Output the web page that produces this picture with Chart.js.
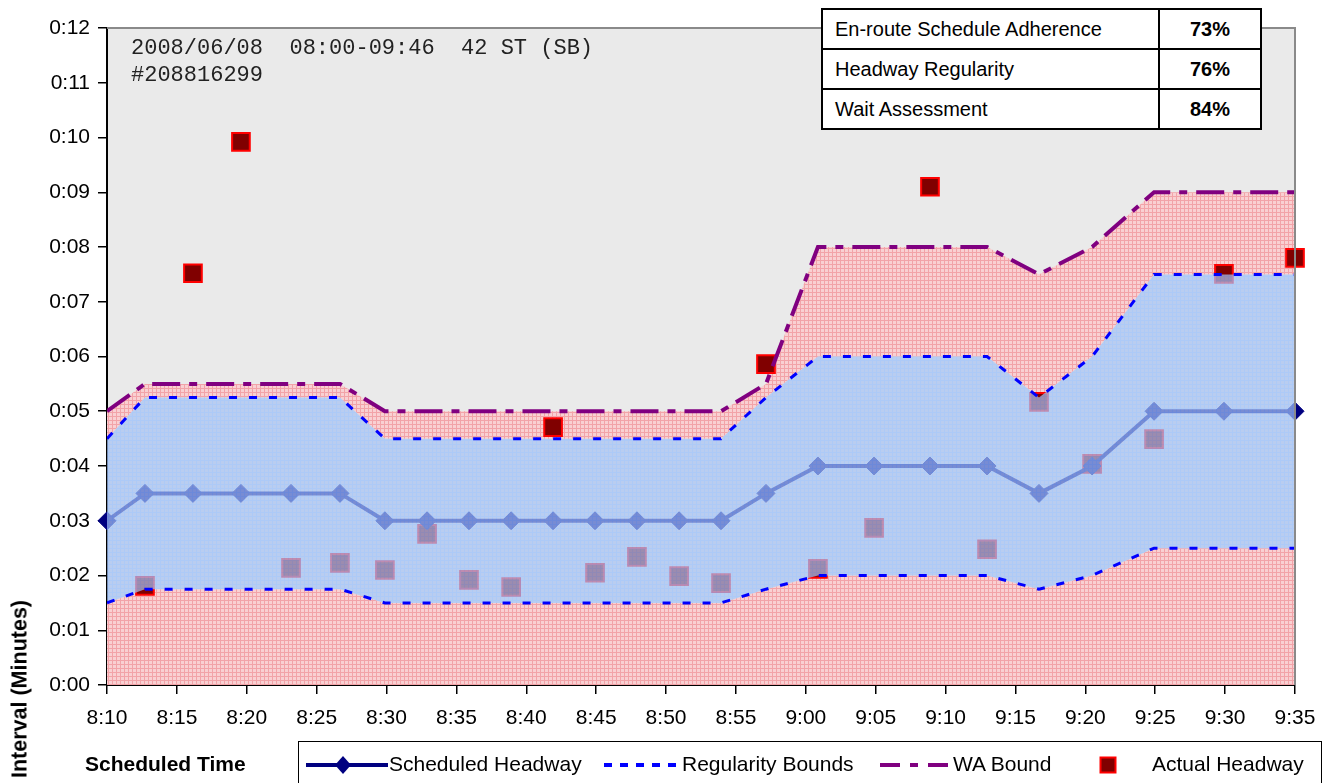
<!DOCTYPE html>
<html lang="en">
<head>
  <meta charset="UTF-8" />
  <title>Headway chart - 42 ST (SB)</title>
  <script src="https://cdn.jsdelivr.net/npm/chart.js"></script>
  <style>
    body { margin: 0; background: #fff; overflow: hidden; font-family: Arial, "Liberation Sans", sans-serif; }
    #wrap { position: relative; width: 1329px; height: 783px; }
    .abs { position: absolute; white-space: nowrap; }
    #note { left: 131px; top: 35px; font: 22px "Liberation Mono", "DejaVu Sans Mono", monospace; line-height: 27px; color: #222; }
    #stats { left: 821px; top: 8px; border-collapse: collapse; background: #fff; font-size: 20px; }
    #stats td { border: 2px solid #000; height: 38px; padding: 0 12px; }
    #stats td.v { width: 76px; text-align: center; font-weight: bold; }
    #stats td.k { width: 311px; }
    #ytitle { left: 20px; top: 689px; font-weight: bold; font-size: 21.5px; transform: translate(-50%, -50%) rotate(-90deg); }
    #xtitle { left: 85px; top: 752px; font-weight: bold; font-size: 21px; }
    #legend { left: 298px; top: 741px; width: 1022px; height: 60px; border: 1.5px solid #000; }
    .lt { font-size: 21px; top: 752px; }
  </style>
</head>
<body>
<div id="wrap">
  <canvas id="chart" width="1329" height="783"></canvas>

  <div class="abs" id="note">2008/06/08&nbsp;&nbsp;08:00-09:46&nbsp;&nbsp;42 ST (SB)<br>#208816299</div>

  <table class="abs" id="stats">
    <tr><td class="k">En-route Schedule Adherence</td><td class="v">73%</td></tr>
    <tr><td class="k">Headway Regularity</td><td class="v">76%</td></tr>
    <tr><td class="k">Wait Assessment</td><td class="v">84%</td></tr>
  </table>

  <div class="abs" id="ytitle">Interval (Minutes)</div>
  <div class="abs" id="xtitle">Scheduled Time</div>

  <div class="abs" id="legend"></div>
  <svg class="abs" style="left:306px;top:754px" width="82" height="22">
    <line x1="0" y1="11" x2="82" y2="11" stroke="#000080" stroke-width="4"/>
    <polygon points="37,2 45,11 37,20 29,11" fill="#000080"/>
  </svg>
  <div class="abs lt" style="left:389px">Scheduled Headway</div>
  <svg class="abs" style="left:604px;top:754px" width="74" height="22">
    <line x1="0" y1="11" x2="74" y2="11" stroke="#0000ff" stroke-width="4" stroke-dasharray="8 8"/>
  </svg>
  <div class="abs lt" style="left:682px">Regularity Bounds</div>
  <svg class="abs" style="left:880px;top:754px" width="70" height="22">
    <line x1="0" y1="11" x2="70" y2="11" stroke="#800080" stroke-width="4" stroke-dasharray="20 10 8 10"/>
  </svg>
  <div class="abs lt" style="left:953px">WA Bound</div>
  <svg class="abs" style="left:1099px;top:756px" width="18" height="18">
    <rect x="1.5" y="1.5" width="15" height="15" fill="#800000" stroke="#ff0000" stroke-width="2"/>
  </svg>
  <div class="abs lt" style="left:1152px">Actual Headway</div>
</div>

<script>
  // scheduled departure times (h:mm:ss)
  const times = ['8:10:00', '8:12:43', '8:16:09', '8:19:35', '8:23:10', '8:26:40', '8:29:53',
    '8:32:54', '8:35:54', '8:38:55', '8:41:55', '8:44:55', '8:47:55', '8:50:56', '8:53:56',
    '8:57:09', '9:00:52', '9:04:53', '9:08:53', '9:12:58', '9:16:41', '9:20:29', '9:24:55',
    '9:29:55', '9:35:00'];

  // intervals in minutes
  const scheduled = [3.0, 3.5, 3.5, 3.5, 3.5, 3.5, 3.0, 3.0, 3.0, 3.0, 3.0, 3.0, 3.0, 3.0, 3.0,
    3.5, 4.0, 4.0, 4.0, 4.0, 3.5, 4.0, 5.0, 5.0, 5.0];
  const regUpper = [4.5, 5.25, 5.25, 5.25, 5.25, 5.25, 4.5, 4.5, 4.5, 4.5, 4.5, 4.5, 4.5, 4.5, 4.5,
    5.25, 6.0, 6.0, 6.0, 6.0, 5.25, 6.0, 7.5, 7.5, 7.5];
  const regLower = [1.5, 1.75, 1.75, 1.75, 1.75, 1.75, 1.5, 1.5, 1.5, 1.5, 1.5, 1.5, 1.5, 1.5, 1.5,
    1.75, 2.0, 2.0, 2.0, 2.0, 1.75, 2.0, 2.5, 2.5, 2.5];
  const waBound = [5.0, 5.5, 5.5, 5.5, 5.5, 5.5, 5.0, 5.0, 5.0, 5.0, 5.0, 5.0, 5.0, 5.0, 5.0,
    5.5, 8.0, 8.0, 8.0, 8.0, 7.5, 8.0, 9.0, 9.0, 9.0];
  const actual = [null, 1.81, 7.52, 9.92, 2.14, 2.23, 2.10, 2.76, 1.92, 1.79, 4.71, 2.05, 2.34,
    1.99, 1.86, 5.86, 2.12, 2.87, 9.10, 2.48, 5.17, 4.04, 4.49, 7.51, 7.80];

  const yTicks = ['0:00', '0:01', '0:02', '0:03', '0:04', '0:05', '0:06', '0:07', '0:08', '0:09', '0:10', '0:11', '0:12'];

  const toMin = t => { const p = t.split(':').map(Number); return p[0] * 60 + p[1] + p[2] / 60; };
  const pts = vals => vals.map((v, i) => ({ x: toMin(times[i]), y: v }));
  const pad = n => String(n).padStart(2, '0');

  function gridPattern(base, line) {
    const c = document.createElement('canvas');
    c.width = 4; c.height = 4;
    const g = c.getContext('2d');
    g.fillStyle = base; g.fillRect(1, 1, 3, 3);
    g.fillStyle = line; g.fillRect(0, 0, 4, 1); g.fillRect(0, 1, 1, 3);
    return g.createPattern(c, 'repeat');
  }
  const pinkFill = gridPattern('#f9d0d2', '#f2a3a8');
  const blueFill = gridPattern('rgba(166,194,243,0.72)', 'rgba(150,190,252,0.72)');

  const plotFrame = {
    id: 'plotFrame',
    beforeDraw(chart) {
      const { ctx, chartArea: a } = chart;
      ctx.save();
      ctx.fillStyle = '#eaeaea';
      ctx.fillRect(a.left, a.top, a.right - a.left, a.bottom - a.top);
      ctx.restore();
    },
    afterDraw(chart) {
      const { ctx, chartArea: a } = chart;
      ctx.save();
      ctx.strokeStyle = '#8a8a8a';
      ctx.lineWidth = 2;
      ctx.beginPath();
      ctx.moveTo(a.left, a.top); ctx.lineTo(a.right, a.top); ctx.lineTo(a.right, a.bottom);
      ctx.stroke();
      ctx.restore();
    }
  };

  const font = { family: 'Arial, "Liberation Sans", sans-serif', size: 21 };

  new Chart(document.getElementById('chart'), {
    type: 'line',
    data: {
      datasets: [
        {
          label: 'Scheduled Headway', data: pts(scheduled), order: 4, clip: false,
          borderColor: '#000080', borderWidth: 4, pointStyle: 'rectRot', pointRadius: 9,
          pointBackgroundColor: '#000080', pointBorderColor: '#000080', pointBorderWidth: 1, tension: 0
        },
        {
          label: 'Regularity Bounds', data: pts(regUpper), order: 2, fill: { target: 2 },
          backgroundColor: blueFill, borderColor: '#0000ff', borderWidth: 3, borderDash: [8, 12],
          pointRadius: 0, tension: 0
        },
        {
          label: 'Regularity Lower', data: pts(regLower), order: 1, fill: false,
          borderColor: '#0000ff', borderWidth: 3, borderDash: [8, 12], pointRadius: 0, tension: 0
        },
        {
          label: 'WA Bound', data: pts(waBound), order: 0, fill: false,
          borderColor: '#800080', borderWidth: 4, borderDash: [28, 9, 8, 9], pointRadius: 0, tension: 0
        },
        {
          label: 'WA Area', data: pts(waBound), order: 10, fill: { target: 1 },
          backgroundColor: pinkFill, borderWidth: 0, borderColor: 'rgba(0,0,0,0)', pointRadius: 0, tension: 0
        },
        {
          label: 'Low Area', data: pts(regLower), order: 10, fill: 'origin',
          backgroundColor: pinkFill, borderWidth: 0, borderColor: 'rgba(0,0,0,0)', pointRadius: 0, tension: 0
        },
        {
          label: 'Actual Headway', data: pts(actual), order: 5, showLine: false, clip: false,
          pointStyle: 'rect', pointRadius: 12.5, pointBackgroundColor: '#800000',
          pointBorderColor: '#ff0000', pointBorderWidth: 2
        }
      ]
    },
    options: {
      responsive: false,
      animation: false,
      layout: { padding: { top: 28, right: 34, left: 0, bottom: 0 } },
      plugins: { legend: { display: false }, tooltip: { enabled: false } },
      scales: {
        x: {
          type: 'linear', min: toMin(times[0]), max: toMin(times[times.length - 1]),
          afterFit: s => { s.height = 98; },
          border: { color: '#000', width: 2 },
          grid: { drawOnChartArea: false, drawTicks: true, tickLength: 9, color: '#000', lineWidth: 1.5 },
          ticks: {
            stepSize: 5, color: '#000', font, padding: 12, maxRotation: 0, autoSkip: false,
            callback: v => Math.floor(v / 60) + ':' + pad(Math.round(v % 60))
          }
        },
        y: {
          min: 0, max: 12,
          afterFit: s => { s.width = 107; },
          border: { color: '#000', width: 2 },
          grid: { drawOnChartArea: false, drawTicks: true, tickLength: 9, color: '#000', lineWidth: 1.5 },
          ticks: { stepSize: 1, color: '#000', font, padding: 8, callback: v => yTicks[v] }
        }
      }
    },
    plugins: [plotFrame]
  });
</script>
</body>
</html>
